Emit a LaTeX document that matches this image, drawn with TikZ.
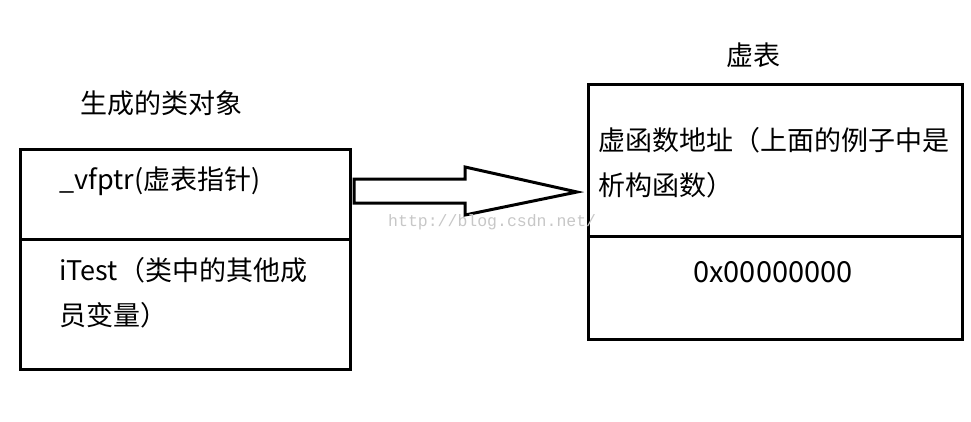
\documentclass[tikz,border=0pt]{standalone}
\usepackage{fontspec}
\setmainfont{Noto Sans CJK SC}
\newfontfamily\wmfont{Liberation Mono}
\usetikzlibrary{positioning}
\tikzset{
  cell/.style={draw, line width=3pt, minimum width=330pt, anchor=north west, inner sep=0pt},
  celltext/.style={anchor=west, inner sep=0pt, font=\fontsize{27}{30}\selectfont},
  boxtitle/.style={inner sep=0pt, font=\fontsize{27}{30}\selectfont}
}

\begin{document}
\begin{tikzpicture}[x=1pt,y=-1pt]
\useasboundingbox (0,0) rectangle (971,421);
% object
\node[boxtitle] (objtitle) at (161,103) {生成的类对象};
\node[cell, minimum height=90pt] (ptr) at (19,148) {};
\node[cell, minimum height=130pt] (mem) at (19,238) {};
\node[celltext] (ptrtext) at (59,181) {\_vfptr(虚表指针)};
\node[celltext] (memtexta) at (59,270) {iTest（类中的其他成};
\node[celltext] (memtextb) at (59,315) {员变量）};
% vtable
\node[boxtitle] (vtbltitle) at (753,55) {虚表};
\node[cell, minimum width=374pt, minimum height=152pt] (fn) at (587,83) {};
\node[cell, minimum width=374pt, minimum height=103pt] (addr) at (587,235) {};
\node[celltext] (fntexta) at (598,140) {虚函数地址（上面的例子中是};
\node[celltext] (fntextb) at (598,185) {析构函数）};
\node[boxtitle, font=\fontsize{29}{30}\selectfont] (addrtext) at (773,272) {0x00000000};
% arrow
\draw[line width=3pt, line join=miter, fill=white]
  (354,179) -- (465,179) -- (465,167) -- (577,192) -- (465,215) -- (465,203) -- (354,203) -- cycle;
\node[anchor=base west, inner sep=0pt, text=black!22, font=\wmfont\fontsize{16.5}{16.5}\selectfont] (wm) at (388,226) {http://blog.csdn.net/};
\end{tikzpicture}
\end{document}
